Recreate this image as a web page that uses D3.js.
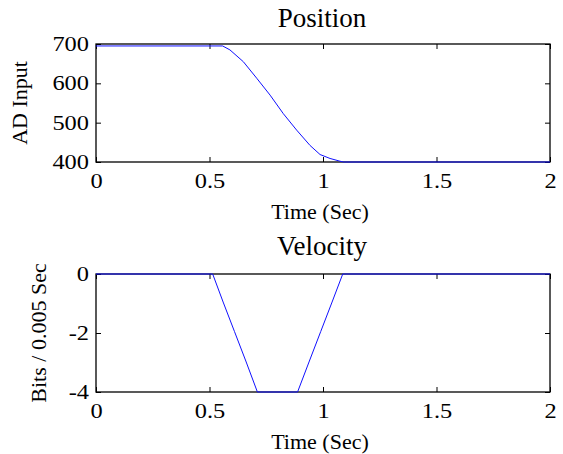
<!DOCTYPE html>
<html>
<head>
<meta charset="utf-8">
<script src="https://cdn.jsdelivr.net/npm/d3@7"></script>
<style>
  body { margin: 0; background: #fff; }
  text { font-family: "Liberation Serif", "Times New Roman", serif; fill: #000; }
  .tick text { font-size: 20px; transform-box: fill-box; transform: scaleX(1.22); }
  .xAxis .tick text { transform-origin: center; }
  .yAxis .tick text { transform-origin: right center; }
  .domain { display: none; }
  .tick line { stroke: #000; stroke-width: 1; }
</style>
</head>
<body>
<svg id="svg" width="563" height="454"></svg>
<script>
// position trace (AD counts)
var posTime  = [0, 0.558, 0.59, 0.649, 0.708, 0.767, 0.825, 0.884, 0.943, 0.987, 1.031, 1.075, 1.09, 2];
var posValue = [695, 695, 685, 655, 613, 570, 523, 481, 442, 419, 409, 402, 400, 400];

// velocity trace (bits per 0.005 s)
var velTime  = [0, 0.514, 0.56, 0.61, 0.66, 0.711, 0.888, 0.94, 0.99, 1.04, 1.087, 2];
var velValue = [0, 0, -0.95, -1.95, -2.95, -4, -4, -2.95, -1.95, -0.95, 0, 0];

var xTicks = [0, 0.5, 1, 1.5, 2];
var xTickLabels = ["0", "0.5", "1", "1.5", "2"];
var posTicks = [400, 500, 600, 700];
var velTicks = [-4, -2, 0];
var velTickLabels = ["-4", "-2", "0"];

var svg = d3.select("#svg");

var left = 96, right = 550;

var xScale = d3.scaleLinear().domain([0, 2]).range([left, right]);

var panels = [
  { top: 44, bottom: 162, domain: [400, 700], ticks: posTicks, labels: posTicks.map(String),
    time: posTime, value: posValue, title: "Position", titleY: 27, ylabel: "AD Input", ylabelX: 27 },
  { top: 274, bottom: 392, domain: [-4, 0], ticks: velTicks, labels: velTickLabels,
    time: velTime, value: velValue, title: "Velocity", titleY: 255, ylabel: "Bits / 0.005 Sec", ylabelX: 46 }
];

panels.forEach(function(p) {
  var yScale = d3.scaleLinear().domain(p.domain).range([p.bottom, p.top]);
  var h = p.bottom - p.top;

  // bottom axis with labels
  svg.append("g")
     .classed("xAxis", true)
     .attr("transform", "translate(0," + p.bottom + ")")
     .call(d3.axisBottom(xScale).tickValues(xTicks)
           .tickFormat(function(d, i) { return xTickLabels[i]; })
           .tickSizeInner(-5).tickSizeOuter(0).tickPadding(12));

  // top ticks, no labels
  svg.append("g")
     .attr("transform", "translate(0," + p.top + ")")
     .call(d3.axisTop(xScale).tickValues(xTicks).tickFormat("")
           .tickSizeInner(-5).tickSizeOuter(0));

  // left axis
  svg.append("g")
     .classed("yAxis", true)
     .attr("transform", "translate(" + left + ",0)")
     .call(d3.axisLeft(yScale).tickValues(p.ticks)
           .tickFormat(function(d, i) { return p.labels[i]; })
           .tickSizeInner(-5).tickSizeOuter(0).tickPadding(7));

  // right ticks
  svg.append("g")
     .attr("transform", "translate(" + right + ",0)")
     .call(d3.axisRight(yScale).tickValues(p.ticks).tickFormat("")
           .tickSizeInner(-5).tickSizeOuter(0));

  // box
  svg.append("rect")
     .attr("x", left).attr("y", p.top)
     .attr("width", right - left).attr("height", h)
     .attr("fill", "none").attr("stroke", "#000").attr("stroke-width", 1.3);

  // trace
  var line = d3.line()
     .x(function(d) { return xScale(d[0]); })
     .y(function(d) { return yScale(d[1]); });

  svg.append("path")
     .datum(d3.zip(p.time, p.value))
     .attr("d", line)
     .attr("fill", "none")
     .attr("stroke", "#1010ff")
     .attr("stroke-width", 1);

  // title
  svg.append("text")
     .attr("x", 322).attr("y", p.titleY)
     .attr("text-anchor", "middle")
     .style("font-size", "27px")
     .text(p.title);

  // x label
  svg.append("text")
     .attr("x", 320).attr("y", p.bottom + 57)
     .attr("text-anchor", "middle")
     .style("font-size", "22px")
     .text("Time (Sec)");

  // y label
  svg.append("text")
     .attr("transform", "translate(" + p.ylabelX + "," + (p.top + h / 2) + ") rotate(-90)")
     .attr("text-anchor", "middle")
     .style("font-size", "22px")
     .text(p.ylabel);
});
</script>
</body>
</html>
